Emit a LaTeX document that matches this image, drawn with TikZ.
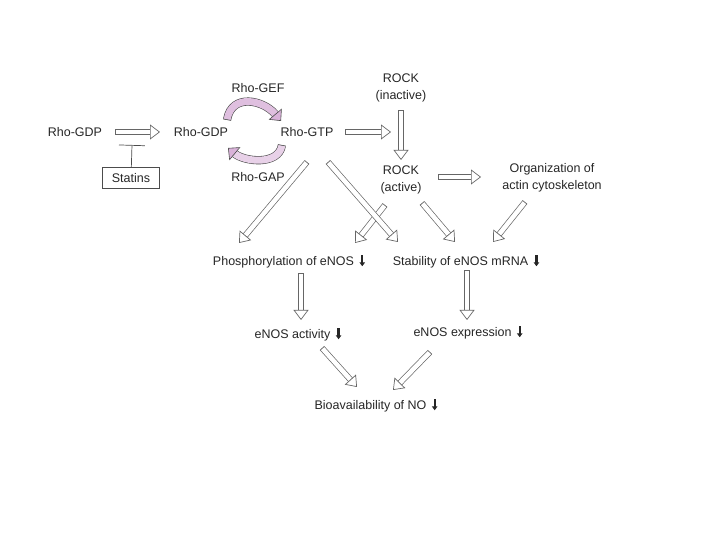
\documentclass[tikz,border=0pt]{standalone}
\usepackage{fontspec}
\setmainfont{Liberation Sans}
\usepackage{tikz}
\usepackage{xcolor}
\usetikzlibrary{calc}
\usetikzlibrary{arrows.meta}

\newcommand{\baisse}{\hspace{2pt}\tikz[baseline=0pt]\draw[line width=2.3pt,-{Triangle[length=4pt,width=5.5pt]}] (0pt,10pt)--(0pt,-1pt);}

\begin{document}
\begin{tikzpicture}[x=1pt,y=1pt]

\tikzset{
    texte/.style = {
    font=\fontsize{12.5}{17}\selectfont,
    text=black!85,
    align=center,
    inner sep=1pt
    }
}

\tikzstyle{boite}=[draw=black!70, line width=0.7pt, texte, minimum width=57pt, minimum height=21pt]
\tikzstyle{bloc}=[draw=black!60, line width=0.7pt, double=white, double distance=4.6pt, {Bar[width=6pt,line width=0.7pt]}-{Triangle[open, length=10pt, width=15pt, line width=0.7pt]}]
\tikzstyle{courbe}=[draw=black!70, line width=0.6pt, double distance=7pt, {Bar[width=8pt,line width=0.6pt]}-{Triangle[length=9pt, width=17pt, line width=0.6pt, fill=violet!30]}]

\useasboundingbox (0,0) rectangle (720,540);

\node (rho-gdp-0) [texte] at (75,408) {Rho-GDP};
\node (rho-gdp-1) [texte] at (201,408) {Rho-GDP};
\node (rho-gtp) [texte] at (307,408) {Rho-GTP};
\node (rho-gef) [texte] at (258,452) {Rho-GEF};
\node (rho-gap) [texte] at (258,363) {Rho-GAP};
\node (statins) [boite] at (131,362) {Statins};

\node (rock-i) [texte] at (401,452) {ROCK\\(inactive)};
\node (rock-a) [texte] at (401,360) {ROCK\\(active)};
\node (actine) [texte] at (552,362) {Organization of\\actin cytoskeleton};

\node (phospho) [texte] at (289,279) {Phosphorylation of eNOS \baisse};
\node (stabilite) [texte] at (466,279) {Stability of eNOS mRNA \baisse};
\node (activite) [texte] at (298,206) {eNOS activity \baisse};
\node (expression) [texte] at (468,208) {eNOS expression \baisse};
\node (bio-no) [texte] at (376,135) {Bioavailability of NO \baisse};

\coordinate (activation) at (391,408);
\coordinate (blocage) at (132,395);

% GEF / GAP
\draw[courbe, double=violet!25, looseness=1.3] ([shift={(26,12)}]rho-gdp-1.center) to[out=80,in=130] ([shift={(-26,11)}]rho-gtp.center);
\draw[courbe, double=violet!18] ([shift={(-25,-13)}]rho-gtp.center) to[out=-100,in=-40] ([shift={(27,-16)}]rho-gdp-1.center);

\draw[draw=black!70, line width=0.7pt, -{Bar[width=26pt]}] (statins) -- (blocage);

\draw[bloc] ([shift={(38,0)}]rho-gtp.center)--(activation);

\foreach \a/\ax/\ay/\b/\bx/\by in {
    rho-gdp-0/40/0/rho-gdp-1/-41/0,
    rock-i/0/-22/rock-a/0/20,
    rock-a/37/3/actine/-71/1,
    actine/-27/-24/stabilite/27/19,
    rock-a/21/-23/stabilite/-11/19,
    rock-a/-16/-25/phospho/66/18,
    rho-gtp/0/-30/phospho/-50/18,
    rho-gtp/21/-30/stabilite/-68/19,
    phospho/12/-12/activite/3/14,
    stabilite/1/-9/expression/-1/12,
    activite/24/-14/bio-no/-19/18,
    expression/-38/-20/bio-no/17/15}{
    \draw[bloc] ([shift={(\ax,\ay)}]\a.center)--([shift={(\bx,\by)}]\b.center);
}

\end{tikzpicture}
\end{document}
